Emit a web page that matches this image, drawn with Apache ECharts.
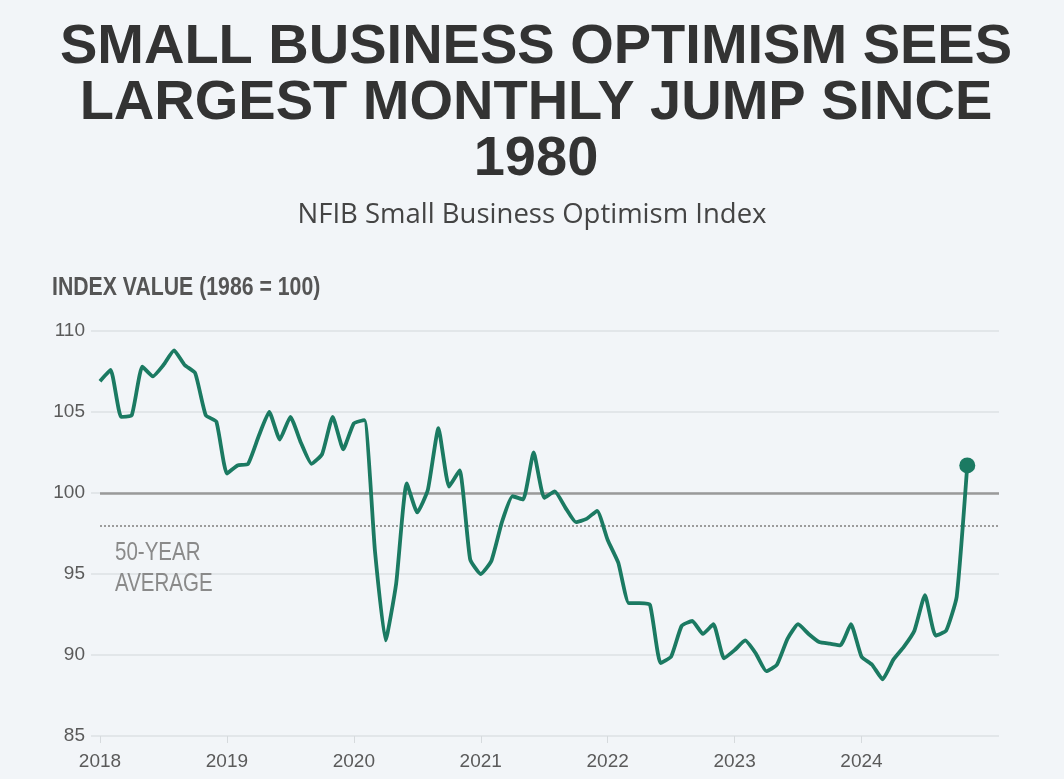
<!DOCTYPE html>
<html>
<head>
<meta charset="utf-8">
<title>Small Business Optimism</title>
<script src="https://cdn.jsdelivr.net/npm/echarts@6/dist/echarts.min.js"></script>
<style>
  html, body { margin: 0; padding: 0; background: #f2f5f8; }
  #chart { width: 1064px; height: 779px; }
</style>
</head>
<body>
<div id="chart"></div>
<script>
// NFIB Small Business Optimism Index, monthly (1986 = 100)
const years = ['2018', '2019', '2020', '2021', '2022', '2023', '2024'];
const v2018 = [106.9, 107.6, 104.7, 104.8, 107.8, 107.2, 107.9, 108.8, 107.9, 107.4, 104.8, 104.4];
const v2019 = [101.2, 101.7, 101.8, 103.5, 105.0, 103.3, 104.7, 103.1, 101.8, 102.4, 104.7, 102.7];
const v2020 = [104.3, 104.5, 96.4, 90.9, 94.4, 100.6, 98.8, 100.2, 104.0, 100.4, 101.4, 95.9];
const v2021 = [95.0, 95.8, 98.2, 99.8, 99.6, 102.5, 99.7, 100.1, 99.1, 98.2, 98.4, 98.9];
const v2022 = [97.1, 95.7, 93.2, 93.2, 93.1, 89.5, 89.9, 91.8, 92.1, 91.3, 91.9, 89.8];
const v2023 = [90.3, 90.9, 90.1, 89.0, 89.4, 91.0, 91.9, 91.3, 90.8, 90.7, 90.6, 91.9];
const v2024 = [89.9, 89.4, 88.5, 89.7, 90.5, 91.5, 93.7, 91.2, 91.5, 93.6, 101.7];
// months after the last reading, so the axis runs through Feb 2025
const trailingMonths = ['2024-12', '2025-01', '2025-02'];

const yTicks = { min: 85, max: 110, step: 5 };
const longRunAverage = 98.0;
const baseline = 100;

const titleText = 'SMALL BUSINESS OPTIMISM SEES\nLARGEST MONTHLY JUMP SINCE\n1980';
const subtitleText = 'NFIB Small Business Optimism Index';
const axisNameText = 'INDEX VALUE (1986 = 100)';
const averageText = '50-YEAR\nAVERAGE';

const monthNames = ['01','02','03','04','05','06','07','08','09','10','11','12'];
const categories = [];
years.forEach(y => monthNames.forEach(m => {
  const key = y + '-' + m;
  if (!trailingMonths.includes(key)) categories.push(key);
}));
trailingMonths.forEach(k => categories.push(k));

const values = [].concat(v2018, v2019, v2020, v2021, v2022, v2023, v2024);
const lastIdx = values.length - 1;

const green = '#1b7a62';
const sans = '"Liberation Sans", Arial, sans-serif';
const isYearStart = (idx) => {
  const k = categories[idx];
  return k.slice(5) === '01' && years.includes(k.slice(0, 4));
};

const chart = echarts.init(document.getElementById('chart'), null, { renderer: 'canvas' });
chart.setOption({
  backgroundColor: '#f2f5f8',
  animation: false,
  grid: { left: 100, right: 65, top: 331, bottom: 43, containLabel: false },
  xAxis: {
    type: 'category',
    data: categories,
    boundaryGap: false,
    axisLine: { show: false },
    axisTick: {
      show: true, length: 7, interval: isYearStart,
      lineStyle: { color: '#d6dadd', width: 1 }
    },
    axisLabel: {
      interval: isYearStart,
      formatter: v => v.slice(0, 4),
      fontFamily: sans, fontSize: 19, color: '#5a5a5a', margin: 16
    },
    splitLine: { show: false }
  },
  yAxis: {
    type: 'value',
    min: yTicks.min, max: yTicks.max, interval: yTicks.step,
    axisLine: { show: false },
    axisTick: { show: true, length: 9, lineStyle: { color: '#dde1e4', width: 1.5 } },
    axisLabel: { fontFamily: sans, fontSize: 19, color: '#5a5a5a', margin: 15 },
    splitLine: { lineStyle: { color: '#dde1e4', width: 1.5 } }
  },
  series: [
    {
      type: 'line',
      data: values,
      smooth: 0.15,
      symbol: 'none',
      lineStyle: { color: green, width: 3.8 },
      z: 3,
      markLine: {
        silent: true,
        symbol: 'none',
        z: 2,
        label: { show: false },
        data: [
          { yAxis: baseline, lineStyle: { color: '#9a9a9a', width: 2.5, type: 'solid' } },
          { yAxis: longRunAverage, lineStyle: { color: '#9c9c9c', width: 2, type: [2, 2] } }
        ]
      }
    },
    {
      type: 'scatter',
      data: [[categories[lastIdx], values[lastIdx]]],
      symbol: 'circle',
      symbolSize: 16,
      itemStyle: { color: green, opacity: 1 },
      z: 4
    }
  ]
});

// headings and annotations; the average label sits just under its reference line
const avgY = chart.convertToPixel({ yAxisIndex: 0 }, longRunAverage);
const plotLeft = chart.convertToPixel({ xAxisIndex: 0 }, categories[0]);
chart.setOption({
  graphic: [
    {
      type: 'text', x: 536, y: 20,
      style: {
        text: titleText, align: 'center', verticalAlign: 'top',
        font: 'bold 56px ' + sans, lineHeight: 56, fill: '#333333'
      }
    },
    {
      type: 'text', x: 532, y: 201,
      style: {
        text: subtitleText, align: 'center', verticalAlign: 'top',
        font: 'normal 27.5px "Open Sans", "Noto Sans", sans-serif', fill: '#444444'
      }
    },
    {
      type: 'text', x: 52, y: 276, scaleX: 0.85,
      style: {
        text: axisNameText, align: 'left', verticalAlign: 'top',
        font: 'bold 25px ' + sans, fill: '#555555'
      }
    },
    {
      type: 'text', x: plotLeft + 15, y: avgY + 12, scaleX: 0.82,
      style: {
        text: averageText, align: 'left', verticalAlign: 'top',
        font: 'normal 25px ' + sans, lineHeight: 31, fill: '#8a8a8a'
      }
    }
  ]
});
</script>
</body>
</html>
